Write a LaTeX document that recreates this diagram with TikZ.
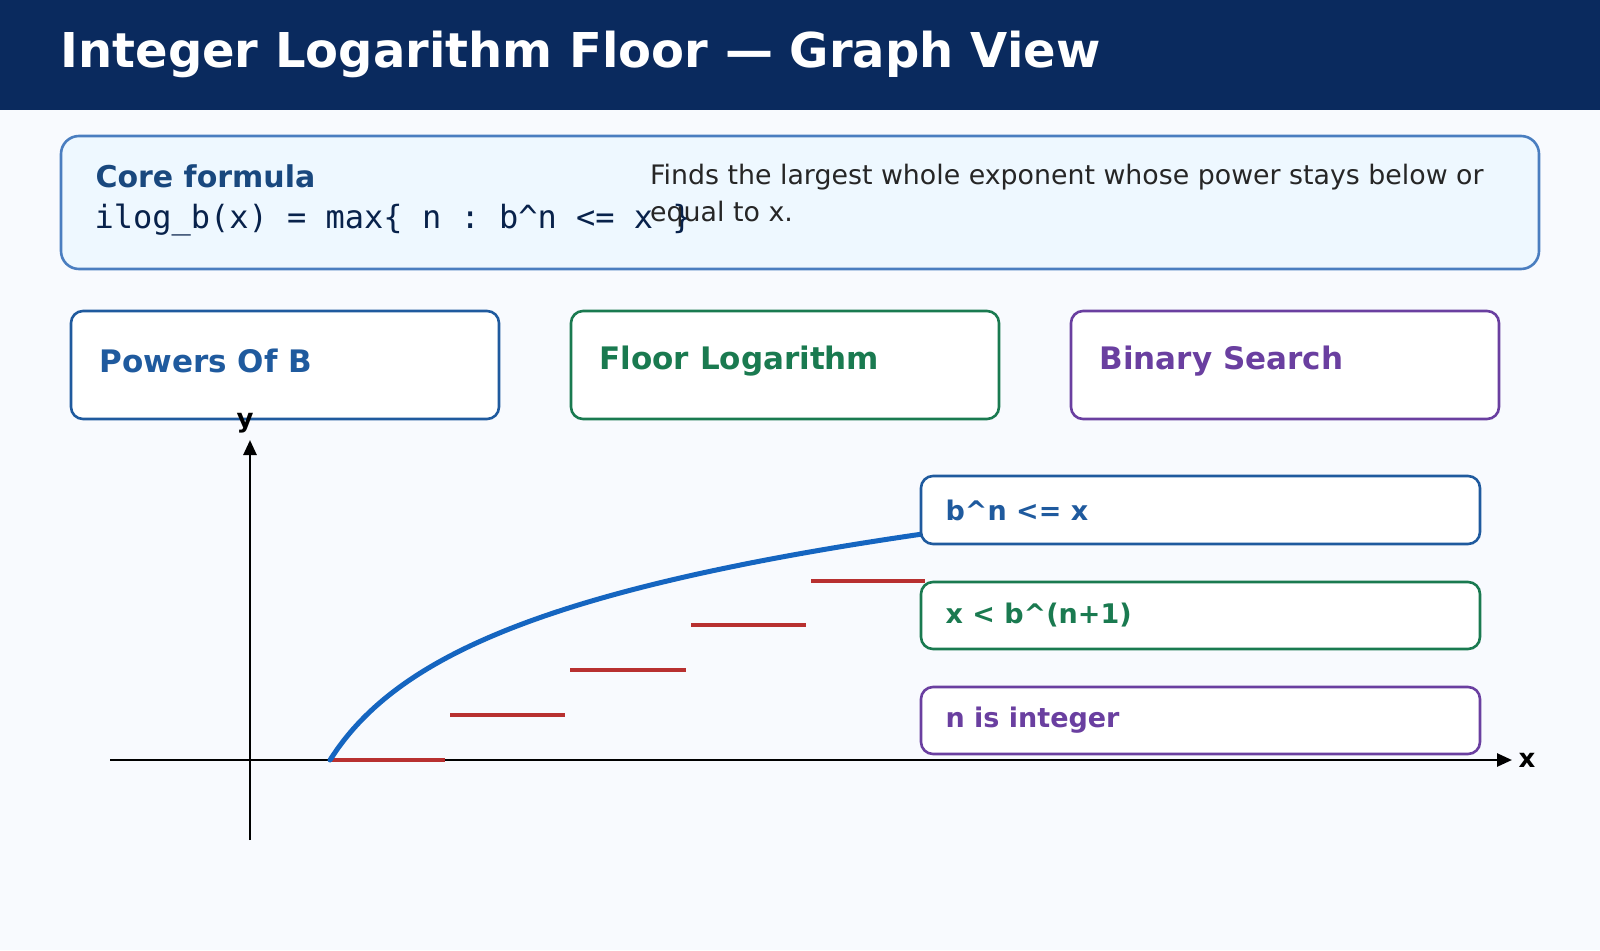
\documentclass[tikz,border=0pt]{standalone}
\usepackage{fontspec}
\setmainfont{DejaVu Sans}
\setmonofont{DejaVu Sans Mono}
\usetikzlibrary{arrows.meta}
\definecolor{hdr}{HTML}{0A2A5E}
\definecolor{cb}{HTML}{1F5A9E}
\definecolor{cg}{HTML}{1A7A50}
\definecolor{cp}{HTML}{6A3FA0}
\definecolor{cr}{HTML}{B83030}
\definecolor{cc}{HTML}{1565C0}
\definecolor{bg}{HTML}{F8FAFE}
\definecolor{corefill}{HTML}{EEF8FF}
\definecolor{coreline}{HTML}{4A7EC0}
\begin{document}
\begin{tikzpicture}[x=1pt,y=-1pt,
  card/.style={draw=#1,line width=2.6pt,rounded corners=12pt,fill=white},
  ttl/.style={anchor=west,font=\fontsize{31}{36}\selectfont\bfseries,text=#1},
  lbl/.style={anchor=west,font=\fontsize{27}{32}\selectfont\bfseries,text=#1},
  redstep/.style={draw=cr,line width=3.6pt},
  ax/.style={line width=2.6pt,-{Triangle[length=15pt,width=13pt]}}]
\useasboundingbox (0,0) rectangle (1600,950);
\fill[bg] (0,0) rectangle (1600,950);
\fill[hdr] (0,0) rectangle (1600,110);
\node[anchor=west,text=white,font=\fontsize{48}{56}\selectfont\bfseries] (title) at (57,54) {Integer Logarithm Floor — Graph View};
\draw[draw=coreline,fill=corefill,line width=2.6pt,rounded corners=18pt] (61,136) rectangle (1539,269);
\node[anchor=west,text=cb!80!black,font=\fontsize{30}{35}\selectfont\bfseries] (core) at (92,176) {Core formula};
\node[anchor=west,text=hdr!80!black,font=\fontsize{32}{37}\ttfamily] (formula) at (91,220) {ilog\_b(x) = max\{ n : b\^{}n <= x \}};
\node[anchor=north west,text=black!85,align=left,font=\fontsize{26.8}{37}\selectfont,inner sep=0pt] (desc) at (650,164) {Finds the largest whole exponent whose power stays below or\\equal to x.};
\draw[card=cb] (71,311) rectangle (499,419);
\node[ttl=cb] (t1) at (96,361) {Powers Of B};
\draw[card=cg] (571,311) rectangle (999,419);
\node[ttl=cg] (t2) at (596,361) {Floor Logarithm};
\draw[card=cp] (1071,311) rectangle (1499,419);
\node[ttl=cp] (t3) at (1096,361) {Binary Search};
\coordinate (xl) at (110,760); \coordinate (xr) at (1512,760);
\coordinate (yb) at (250,840); \coordinate (yt) at (250,440);
\draw[ax] (xl) -- (xr);
\draw[ax] (yb) -- (yt);
\node[font=\fontsize{26}{30}\selectfont\bfseries] (xlab) at (1527,760) {x};
\node[font=\fontsize{26}{30}\selectfont\bfseries] (ylab) at (245,423) {y};
\draw[redstep] (330,760) -- (445,760);
\draw[redstep] (450,715) -- (565,715);
\draw[redstep] (570,670) -- (686,670);
\draw[redstep] (691,625) -- (806,625);
\draw[redstep] (811,581) -- (925,581);
\draw[cc,line width=5pt,line cap=round] plot[domain=330:923,samples=80,smooth] (\x,{760-94.7*ln(1+(\x-330)/60)});
\draw[card=cb] (921,476) rectangle (1480,544);
\node[lbl=cb] (l1) at (942,510) {b\^{}n <= x};
\draw[card=cg] (921,582) rectangle (1480,649);
\node[lbl=cg] (l2) at (942,615) {x < b\^{}(n+1)};
\draw[card=cp] (921,687) rectangle (1480,754);
\node[lbl=cp] (l3) at (942,720) {n is integer};
\end{tikzpicture}
\end{document}
